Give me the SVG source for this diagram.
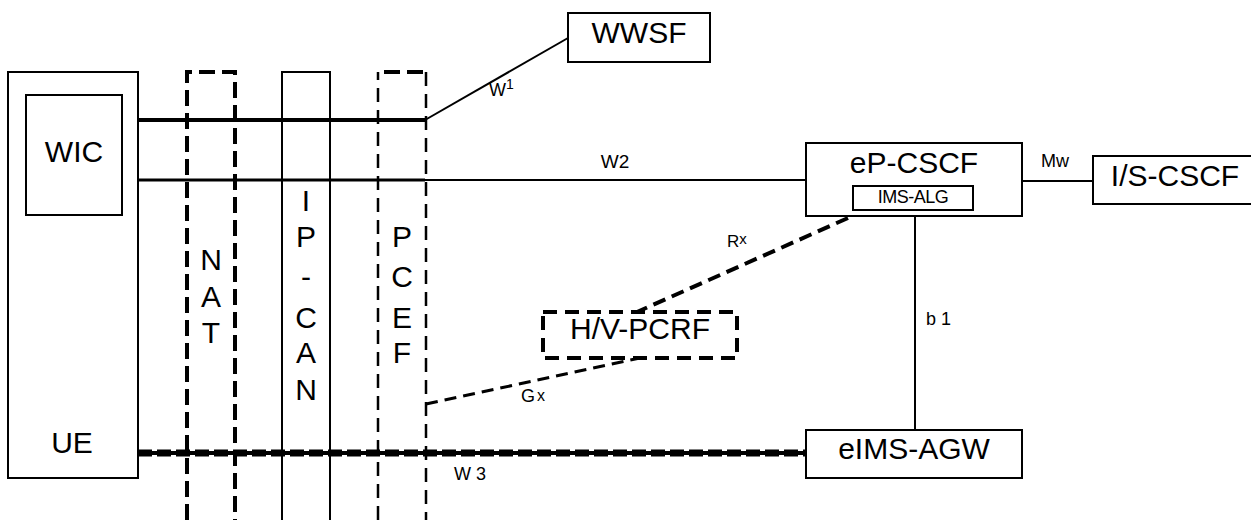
<svg xmlns="http://www.w3.org/2000/svg" width="1251" height="520" viewBox="0 0 1251 520">
<style>
text{font-family:"Liberation Sans",Arial,sans-serif;fill:#000}
.big{font-size:30px;text-anchor:middle}
.sm{font-size:18px}
.box{fill:#fff;stroke:#000;stroke-width:2}
.col{fill:none;stroke:#000}
</style>
<rect width="1251" height="520" fill="#fff"/>
<g id="connectors" fill="none" stroke="#000">
<line x1="138" y1="120" x2="425" y2="120" stroke-width="4"/>
<line x1="425" y1="120" x2="568" y2="38" stroke-width="2"/>
<line x1="138" y1="180" x2="425" y2="180" stroke-width="3"/>
<line x1="425" y1="180" x2="806" y2="180" stroke-width="2"/>
<line x1="138" y1="453" x2="806" y2="453" stroke-width="4"/>
<line x1="138" y1="453" x2="806" y2="453" stroke-width="7" stroke-dasharray="14 5"/>
<line x1="1022" y1="181" x2="1093" y2="181" stroke-width="2"/>
<line x1="915" y1="216" x2="915" y2="430" stroke-width="2"/>
<line x1="848" y1="218" x2="637" y2="312" stroke-width="4" stroke-dasharray="13 7"/>
<line x1="426" y1="404" x2="640" y2="358" stroke-width="3" stroke-dasharray="12 7"/>
</g>
<g id="UE"><rect class="box" x="8" y="72" width="130" height="406"/><text class="big" x="72" y="453">UE</text></g>
<g id="WIC"><rect class="box" x="26" y="95" width="96" height="120"/><text class="big" x="74" y="162">WIC</text></g>
<g id="NAT">
<path class="col" d="M187 520V72H235V520" stroke-width="4" stroke-dasharray="16 7"/>
<text class="big" x="211" y="270">N</text><text class="big" x="211" y="307">A</text><text class="big" x="211" y="343">T</text>
</g>
<g id="IP-CAN">
<path class="col" d="M282 520V72H330V520" stroke-width="2"/>
<text class="big" x="306" y="211">I</text><text class="big" x="306" y="247">P</text><text class="big" x="306" y="287">-</text><text class="big" x="306" y="328">C</text><text class="big" x="306" y="363">A</text><text class="big" x="306" y="400">N</text>
</g>
<g id="PCEF">
<path class="col" d="M378 520V72" stroke-width="2.5" stroke-dasharray="14 8"/>
<path class="col" d="M426 72V520" stroke-width="2.5" stroke-dasharray="14 8"/>
<path class="col" d="M384 72H426" stroke-width="4" stroke-dasharray="16 7"/>
<text class="big" x="402" y="247">P</text><text class="big" x="402" y="287">C</text><text class="big" x="402" y="328">E</text><text class="big" x="402" y="363">F</text>
</g>
<g id="WWSF"><rect class="box" x="568" y="13" width="142" height="49"/><text class="big" x="639" y="43">WWSF</text></g>
<g id="ePCSCF"><rect class="box" x="806" y="143" width="216" height="73"/><text class="big" x="914" y="173">eP-CSCF</text>
<rect class="box" x="853" y="186" width="120" height="24"/><text x="913" y="203" font-size="18" text-anchor="middle" letter-spacing="-0.5">IMS-ALG</text></g>
<g id="ISCSCF"><rect class="box" x="1093" y="156" width="165" height="48"/><text class="big" x="1175" y="186">I/S-CSCF</text></g>
<g id="PCRF"><rect x="543" y="312" width="194" height="46" fill="#fff" stroke="#000" stroke-width="4" stroke-dasharray="14 8"/><text class="big" x="640" y="339">H/V-PCRF</text></g>
<g id="eIMSAGW"><rect class="box" x="806" y="430" width="216" height="48"/><text class="big" x="914" y="459">eIMS-AGW</text></g>
<g id="labels">
<text class="sm" x="489" y="96">W<tspan font-size="14" dy="-7">1</tspan></text>
<text font-size="19" x="615" y="168" text-anchor="middle">W2</text>
<text class="sm" x="1041" y="167">Mw</text>
<text class="sm" x="926" y="325">b 1</text>
<text class="sm" x="454" y="480">W 3</text>
<text x="727" y="247" font-size="17">R<tspan font-size="15" dy="-3">x</tspan></text>
<text x="521" y="402" font-size="18">G<tspan dx="2" dy="-1" font-size="16">x</tspan></text>
</g>
</svg>
